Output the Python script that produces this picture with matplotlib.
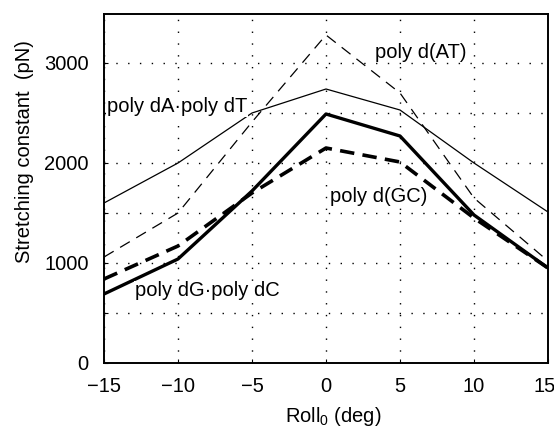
import matplotlib
matplotlib.use("Agg")
import matplotlib.pyplot as plt
import matplotlib.transforms as mtransforms

plt.rcParams['font.family'] = ['Liberation Sans', 'DejaVu Sans']
plt.rcParams['mathtext.fontset'] = 'custom'
plt.rcParams['mathtext.rm'] = 'Liberation Sans'

roll = [-15, -10, -5, 0, 5, 10, 15]
polyA_polyT = [1600, 2000, 2500, 2740, 2530, 2000, 1510]
poly_AT = [1060, 1500, 2410, 3280, 2700, 1650, 1020]
polyG_polyC = [690, 1040, 1720, 2490, 2270, 1480, 950]
poly_GC = [840, 1170, 1700, 2150, 2010, 1450, 950]

xticks = [-15, -10, -5, 0, 5, 10, 15]
xtick_labels = ['\u221215', '\u221210', '\u22125', '0', '5', '10', '15']
yticks = [0, 500, 1000, 1500, 2000, 2500, 3000]
ytick_labels = ['0', '', '1000', '', '2000', '', '3000']

fig = plt.figure(figsize=(5.54, 4.30), dpi=100)
ax = fig.add_axes([104/554, 1-363/430, (548-104)/554, (363-14)/430])

ax.plot(roll, polyA_polyT, color='black', lw=0.9)
ax.plot(roll, poly_AT, color='black', lw=0.9, dashes=(9, 6))
ax.plot(roll, polyG_polyC, color='black', lw=2.4)
ax.plot(roll, poly_GC, color='black', lw=2.6, dashes=(4, 2.3))

ax.set_xlim(-15, 15)
ax.set_ylim(0, 3490)
ax.set_xticks(xticks)
ax.set_xticklabels(xtick_labels)
ax.set_yticks(yticks)
ax.set_yticklabels(ytick_labels)
ax.tick_params(direction='in', length=3, width=0.8, labelsize=14.5, colors='black')
ax.tick_params(axis='x', pad=10)
ax.tick_params(axis='y', pad=11)
ax.grid(True, color='black', linestyle=(0, (1, 7.5)), linewidth=1.0)
for s in ax.spines.values():
    s.set_linewidth(1.4)

# nudge the last x tick label slightly left so it stays inside the figure
last = ax.get_xticklabels()[-1]
last.set_transform(last.get_transform() + mtransforms.ScaledTranslation(-3/100, 0, fig.dpi_scale_trans))

ax.set_xlabel('Roll$_\\mathregular{0}$ (deg)', fontsize=14.5)
ax.xaxis.set_label_coords((333-104)/444, -(405-363)/349)
ax.set_ylabel('Stretching constant  (pN)', fontsize=14.5)
ax.yaxis.set_label_coords((34-104)/444, (363-152)/349)

tb = dict(facecolor='white', edgecolor='none', pad=0.5)
ax.text(-14.8, 2560, 'poly dA\u00b7poly dT', fontsize=14.5, va='center', ha='left', bbox=tb)
ax.text(3.3, 3110, 'poly d(AT)', fontsize=14.5, va='center', ha='left', bbox=tb)
ax.text(0.3, 1660, 'poly d(GC)', fontsize=14.5, va='center', ha='left', bbox=tb)
ax.text(-12.9, 720, 'poly dG\u00b7poly dC', fontsize=14.5, va='center', ha='left', bbox=tb)

fig.savefig('out.png', dpi=100)
